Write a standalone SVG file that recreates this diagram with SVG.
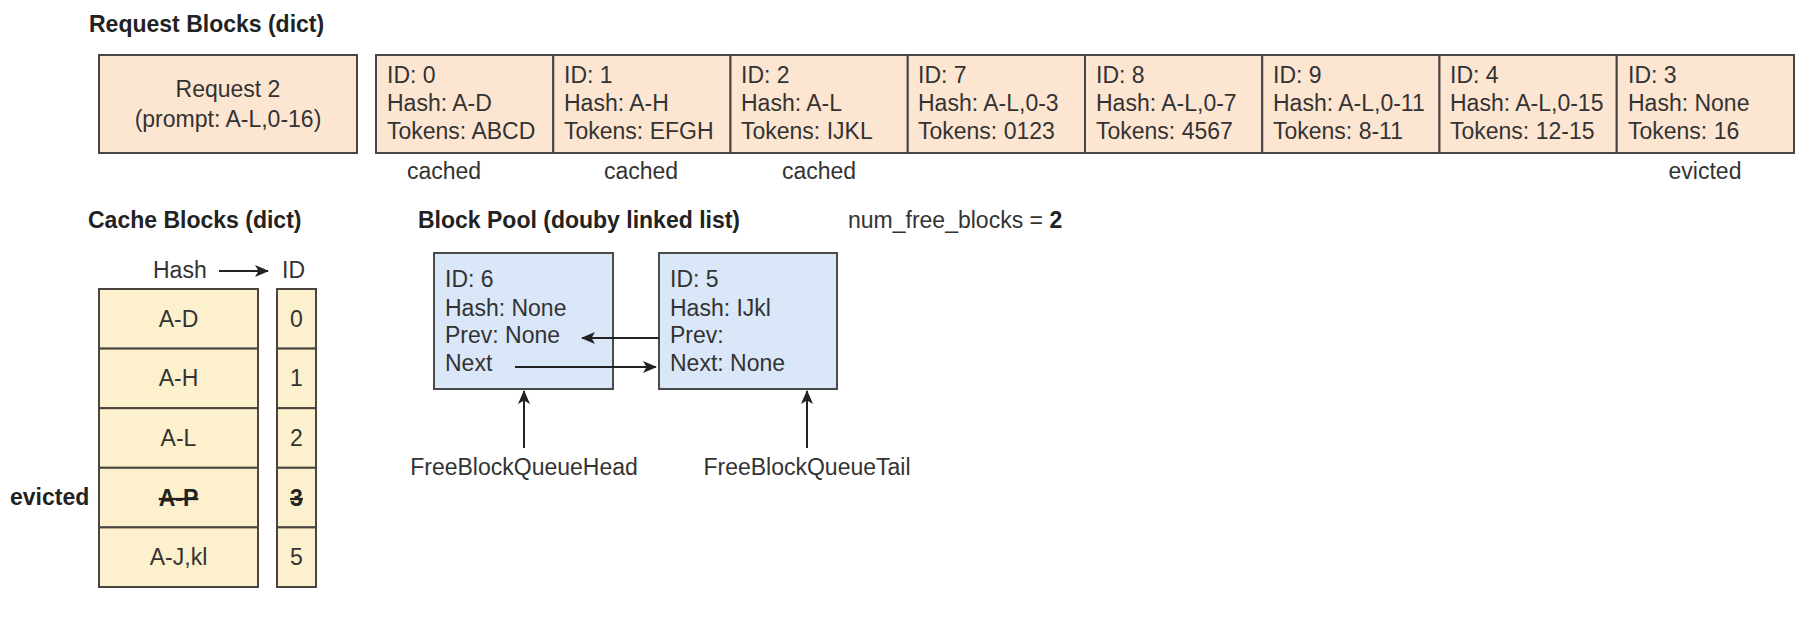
<svg xmlns="http://www.w3.org/2000/svg" width="1808" height="630" viewBox="0 0 1808 630">
<defs>
<style>
text{font-family:"Liberation Sans",Arial,Helvetica,sans-serif;font-size:23px;fill:#333}
.title{font-weight:bold;fill:#222}
.mid{text-anchor:middle}
.req{fill:#fde6d1;stroke:#4a4540;stroke-width:2}
.cache{fill:#fdf1cd;stroke:#4a4540;stroke-width:2}
.pool{fill:#d9e7f9;stroke:#4a4a4a;stroke-width:2}
.conn{stroke:#222;stroke-width:2;fill:none;marker-end:url(#arr)}
.strike{text-decoration:line-through;font-weight:bold;fill:#222}
</style>
<marker id="arr" viewBox="0 0 14 12" refX="13" refY="6" markerWidth="14" markerHeight="12" markerUnits="userSpaceOnUse" orient="auto">
<path d="M0,0 L14,6 L0,12 L3.5,6 z" fill="#222"/>
</marker>
</defs>
<rect width="1808" height="630" fill="#fff"/>

<text class="title" x="89" y="32">Request Blocks (dict)</text>
<text class="title" x="88" y="228">Cache Blocks (dict)</text>
<text class="title" x="418" y="228">Block Pool (douby linked list)</text>
<text x="848" y="228">num_free_blocks = <tspan font-weight="bold" fill="#222">2</tspan></text>

<g id="request2">
<rect class="req" x="99" y="55" width="258" height="98"/>
<text class="mid" x="228" y="97">Request 2</text>
<text class="mid" x="228" y="127">(prompt: A-L,0-16)</text>
</g>

<g id="rblock0">
<rect class="req" x="376" y="55" width="177.25" height="98"/>
<text x="387" y="83">ID: 0</text><text x="387" y="111">Hash: A-D</text><text x="387" y="139">Tokens: ABCD</text>
</g>
<g id="rblock1">
<rect class="req" x="553.25" y="55" width="177.25" height="98"/>
<text x="564" y="83">ID: 1</text><text x="564" y="111">Hash: A-H</text><text x="564" y="139">Tokens: EFGH</text>
</g>
<g id="rblock2">
<rect class="req" x="730.5" y="55" width="177.25" height="98"/>
<text x="741" y="83">ID: 2</text><text x="741" y="111">Hash: A-L</text><text x="741" y="139">Tokens: IJKL</text>
</g>
<g id="rblock7">
<rect class="req" x="907.75" y="55" width="177.25" height="98"/>
<text x="918" y="83">ID: 7</text><text x="918" y="111">Hash: A-L,0-3</text><text x="918" y="139">Tokens: 0123</text>
</g>
<g id="rblock8">
<rect class="req" x="1085" y="55" width="177.25" height="98"/>
<text x="1096" y="83">ID: 8</text><text x="1096" y="111">Hash: A-L,0-7</text><text x="1096" y="139">Tokens: 4567</text>
</g>
<g id="rblock9">
<rect class="req" x="1262.25" y="55" width="177.25" height="98"/>
<text x="1273" y="83">ID: 9</text><text x="1273" y="111">Hash: A-L,0-11</text><text x="1273" y="139">Tokens: 8-11</text>
</g>
<g id="rblock4">
<rect class="req" x="1439.5" y="55" width="177.25" height="98"/>
<text x="1450" y="83">ID: 4</text><text x="1450" y="111">Hash: A-L,0-15</text><text x="1450" y="139">Tokens: 12-15</text>
</g>
<g id="rblock3">
<rect class="req" x="1616.75" y="55" width="177.25" height="98"/>
<text x="1628" y="83">ID: 3</text><text x="1628" y="111">Hash: None</text><text x="1628" y="139">Tokens: 16</text>
</g>

<g id="status-labels">
<text class="mid" x="444" y="179">cached</text>
<text class="mid" x="641" y="179">cached</text>
<text class="mid" x="819" y="179">cached</text>
<text class="mid" x="1705" y="179">evicted</text>
</g>

<g id="cache-header">
<text x="153" y="278">Hash</text>
<text x="282" y="278">ID</text>
</g>

<g id="cache-hash">
<rect class="cache" x="99" y="289" width="159" height="59.6"/>
<rect class="cache" x="99" y="348.6" width="159" height="59.6"/>
<rect class="cache" x="99" y="408.2" width="159" height="59.6"/>
<rect class="cache" x="99" y="467.8" width="159" height="59.6"/>
<rect class="cache" x="99" y="527.4" width="159" height="59.6"/>
<text class="mid" x="178.5" y="327">A-D</text>
<text class="mid" x="178.5" y="386">A-H</text>
<text class="mid" x="178.5" y="446">A-L</text>
<text class="mid strike" x="178.5" y="506">A-P</text>
<text class="mid" x="178.5" y="565">A-J,kl</text>
</g>

<g id="cache-id">
<rect class="cache" x="277" y="289" width="39" height="59.6"/>
<rect class="cache" x="277" y="348.6" width="39" height="59.6"/>
<rect class="cache" x="277" y="408.2" width="39" height="59.6"/>
<rect class="cache" x="277" y="467.8" width="39" height="59.6"/>
<rect class="cache" x="277" y="527.4" width="39" height="59.6"/>
<text class="mid" x="296.5" y="327">0</text>
<text class="mid" x="296.5" y="386">1</text>
<text class="mid" x="296.5" y="446">2</text>
<text class="mid strike" x="296.5" y="506">3</text>
<text class="mid" x="296.5" y="565">5</text>
</g>

<text class="title" x="10" y="505">evicted</text>

<g id="pool6">
<rect class="pool" x="434" y="253" width="179" height="136"/>
<text x="445" y="287">ID: 6</text>
<text x="445" y="316">Hash: None</text>
<text x="445" y="343">Prev: None</text>
<text x="445" y="371">Next</text>
</g>
<g id="pool5">
<rect class="pool" x="659" y="253" width="178" height="136"/>
<text x="670" y="287">ID: 5</text>
<text x="670" y="316">Hash: IJkl</text>
<text x="670" y="343">Prev:</text>
<text x="670" y="371">Next: None</text>
</g>

<g id="queue-head"><text class="mid" x="524" y="475">FreeBlockQueueHead</text></g>
<g id="queue-tail"><text class="mid" x="807" y="475">FreeBlockQueueTail</text></g>

<g id="connectors">
<line class="conn" x1="219" y1="271" x2="268" y2="271"/>
<line class="conn" x1="659" y1="338" x2="582" y2="338"/>
<line class="conn" x1="515" y1="367" x2="656" y2="367"/>
<line class="conn" x1="524" y1="448" x2="524" y2="391"/>
<line class="conn" x1="807" y1="448" x2="807" y2="391"/>
</g>
</svg>
